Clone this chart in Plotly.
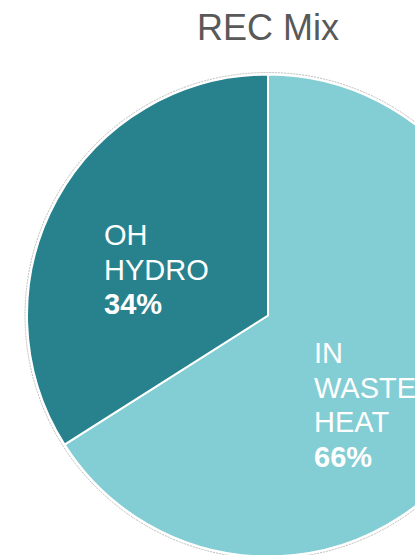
import plotly.graph_objects as go

# ---- data ----
labels = ["IN WASTE HEAT", "OH HYDRO"]
values = [66, 34]
colors = ["#83CDD4", "#27828E"]
title_text = "REC Mix"

# label placement (paper fractions of the pie domain) and line breaks
label_lines = {"IN WASTE HEAT": ["IN", "WASTE", "HEAT"], "OH HYDRO": ["OH", "HYDRO"]}
label_pos = {"IN WASTE HEAT": (0.591, 0.3152), "OH HYDRO": (0.156, 0.5952)}
LINE_GAP = 34.5  # px between label lines

W, H = 536, 600
ML, MR, MT, MB = 27, 27, 74, 43

fig = go.Figure(
    go.Pie(
        labels=labels,
        values=values,
        sort=False,
        direction="clockwise",
        rotation=0,
        marker=dict(colors=colors, line=dict(color="white", width=2)),
        textinfo="none",
        hoverinfo="label+percent",
        showlegend=False,
    )
)

total = sum(values)
for lab, val in zip(labels, values):
    lines = label_lines[lab] + [f"<b>{round(100*val/total)}%</b>"]
    n = len(lines)
    x, y = label_pos[lab]
    for i, ln in enumerate(lines):
        fig.add_annotation(
            x=x, y=y, xref="paper", yref="paper",
            xanchor="left", yanchor="middle", align="left",
            yshift=((n - 1) / 2 - i) * LINE_GAP,
            text=ln, showarrow=False,
            font=dict(family="Liberation Sans, Arial", size=29, color="white"),
        )

fig.add_shape(
    type="circle", xref="paper", yref="paper",
    xsizemode="pixel", ysizemode="pixel", xanchor=0.5, yanchor=0.5,
    x0=-243, x1=243, y0=-243, y1=243,
    line=dict(color="#BDBDBD", width=1, dash="2px,1px"),
    layer="below",
)

fig.update_layout(
    width=W, height=H,
    margin=dict(l=ML, r=MR, t=MT, b=MB),
    paper_bgcolor="white",
    title=dict(
        text=title_text, x=0.5, xanchor="center",
        y=1 - 27 / H, yanchor="middle", yref="container",
        font=dict(family="Liberation Sans, Arial", size=36, color="#595959"),
    ),
)

fig.write_html(
    "out.html",
    post_script="document.body.style.margin='0';document.body.style.overflow='hidden';document.documentElement.style.overflow='hidden';",
)
